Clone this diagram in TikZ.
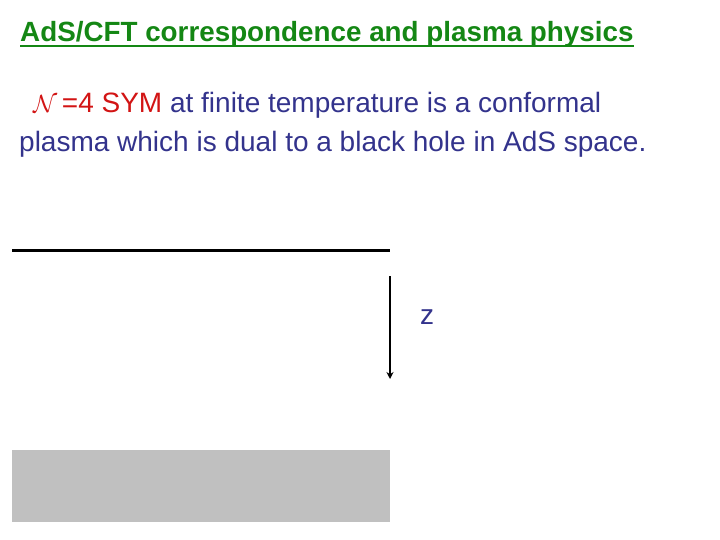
\documentclass[tikz,border=0pt]{standalone}
\usepackage{amsmath,amsfonts,amssymb}
\usepackage{fontspec}
\setmainfont{Liberation Sans}
\usepackage{tikz}
\usetikzlibrary{arrows.meta}

\definecolor{titlegreen}{RGB}{20,135,20}
\definecolor{textblue}{RGB}{51,51,140}
\definecolor{symred}{RGB}{210,20,20}
\definecolor{bulkgray}{RGB}{192,192,192}

\tikzset{
	heading/.style={anchor=base west, inner sep=0pt, font=\fontsize{27.8}{32}\selectfont\bfseries, text=titlegreen},
	bodytext/.style={anchor=base west, inner sep=0pt, font=\fontsize{28}{32}\selectfont, text=textblue},
}

\begin{document}
\begin{tikzpicture}[x=1pt, y=-1pt]
		\useasboundingbox (0,0) rectangle (720,540);
		\node[heading] (title) at (20,42) {AdS/CFT correspondence and plasma physics};
		\draw [titlegreen, line width=2pt] ([yshift=-4.5pt]title.base west) -- ([yshift=-4.5pt]title.base east);
		\node[bodytext] (line1) at (33,113) {\textcolor{symred}{$\mathcal{N}$\,=4 SYM} at finite temperature is a conformal};
		\node[bodytext] (line2) at (19,152) {plasma which is dual to a black hole in AdS space.};
		\draw [line width=3pt] (12,250) -- (390,250);
		\coordinate (ztop) at (390,276);
		\coordinate (zbot) at (390,379);
		\draw [line width=2pt, -{Stealth[length=7pt,width=7pt]}] (ztop) -- (zbot);
		\node[bodytext, anchor=base] (zlabel) at (427,324) {z};
		\fill [bulkgray] (12,450) rectangle (390,522);
	\end{tikzpicture}
\end{document}
